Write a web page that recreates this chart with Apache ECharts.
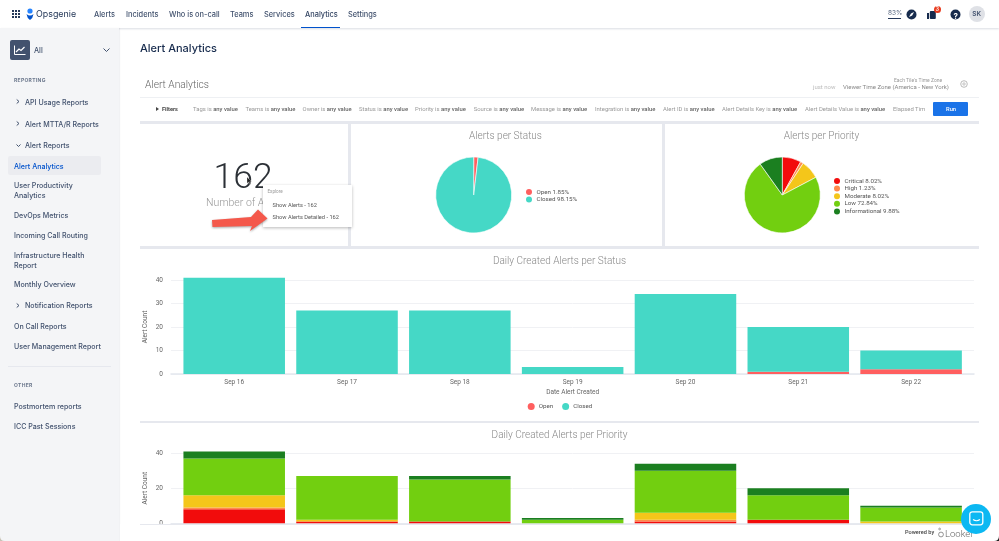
<!DOCTYPE html>
<html><head><meta charset="utf-8">
<script src="https://cdn.jsdelivr.net/npm/echarts@6/dist/echarts.min.js"></script>
<style>
html,body{margin:0;padding:0;background:#fff;width:999px;height:541px;overflow:hidden}
#chart{position:absolute;left:0;top:0;width:999px;height:541px}
#ui{position:absolute;left:0;top:0;width:999px;height:541px;pointer-events:none;font-family:Inter,sans-serif}
#ui>*{position:absolute}
.t{white-space:nowrap;line-height:1;transform:translateY(calc(-50% + .7px))}
.b{position:absolute}
</style></head><body>
<div id="chart"></div>
<div id="ui"></div>
<script>
// ---- data ----
const days = ['Sep 16','Sep 17','Sep 18','Sep 19','Sep 20','Sep 21','Sep 22'];
const openByDay   = [0,0,0,0,0,1,2];
const closedByDay = [41,27,27,3,34,19,8];
const criticalByDay = [8,1,1,0,1,2,0];
const highByDay     = [1,0,0,0,1,0,0];
const moderateByDay = [7,1,0,0,4,0,1];
const lowByDay      = [21,25,24,2,24,14,8];
const infoByDay     = [4,0,2,1,4,4,1];
const statusNames = ['Open','Closed'];
const statusValues = [3,159];
const statusPct = ['1.85%','98.15%'];
const priorityNames = ['Critical','High','Moderate','Low','Informational'];
const priorityValues = [13,2,13,118,16];
const priorityPct = ['8.02%','1.23%','8.02%','72.84%','9.88%'];
const statusTicksMax = 40, priorityTicksMax = 40;

const C = {open:'#FF5F5F',closed:'#45D8C6',Critical:'#F20C0C',High:'#FF8A4C',Moderate:'#F4C61A',Low:'#72CF10',Informational:'#1B7F20'};
const F = 'Roboto';
const pieTitle = {fontFamily:F,fontWeight:300,fontSize:10,color:'#888'};
const barTitle = {fontFamily:F,fontWeight:300,fontSize:10,color:'#888'};
const tickStyle = {fontFamily:F,fontSize:6.5,color:'#666'};
const legendText = {fontFamily:F,fontSize:6.2,color:'#555',padding:[0,0,0,-1.5]};

const chart = echarts.init(document.getElementById('chart'),null,{renderer:'canvas'});

// wide frame grid carries gridlines + y labels; the inner grid carries the bars
function frameAxes(top,bottom,interval,max){
  return {
    grid:[{left:171,right:25,top,bottom},{left:177.8,right:31.5,top,bottom}],
    y:{type:'value',min:0,max,interval,name:'Alert Count',nameLocation:'middle',nameGap:22,nameMoveOverlap:false,
       nameTextStyle:{fontFamily:F,fontSize:6.5,color:'#666'},axisLabel:{...tickStyle,margin:8},
       axisLine:{show:false},axisTick:{show:false},splitLine:{lineStyle:{color:'#F0F1F4',width:1}}},
    yh:{type:'value',min:0,max,interval,show:false,splitLine:{show:false}}
  };
}
const a1 = frameAxes(280,167,10,statusTicksMax);
const a2 = frameAxes(453.3,17.7,20,priorityTicksMax);
const ix = (gridIndex,extra)=>({type:'category',gridIndex,data:days,axisTick:{show:false},axisLine:{lineStyle:{color:'#E4E7EE',width:1.5}},axisLabel:{show:false},...extra});

function bar(name,data,color,xAxisIndex,yAxisIndex,stack){
  return {type:'bar',name,data,xAxisIndex,yAxisIndex,stack,barWidth:'90%',clip:false,silent:true,animation:false,
    itemStyle:{color}};
}

chart.setOption({
  animation:false,
  title:[
    {text:'Alerts per Status',left:505.5,top:131,padding:0,textAlign:'center',textStyle:pieTitle},
    {text:'Alerts per Priority',left:821.5,top:131,padding:0,textAlign:'center',textStyle:pieTitle},
    {text:'Daily Created Alerts per Status',left:559.5,top:256.5,padding:0,textAlign:'center',textStyle:barTitle},
    {text:'Daily Created Alerts per Priority',left:559.5,top:430.5,padding:0,textAlign:'center',textStyle:barTitle}
  ],
  legend:[
    {data:statusNames,orient:'vertical',left:526,top:189,padding:0,icon:'circle',itemWidth:8,itemHeight:6,itemGap:1.6,selectedMode:false,
      formatter:n=>n+' '+statusPct[statusNames.indexOf(n)],textStyle:legendText},
    {data:priorityNames,orient:'vertical',left:834,top:178,padding:0,icon:'circle',itemWidth:8,itemHeight:6,itemGap:1.6,selectedMode:false,
      formatter:n=>n+' '+priorityPct[priorityNames.indexOf(n)],textStyle:legendText},
    {data:statusNames,left:527.7,top:403,padding:0,icon:'circle',itemWidth:8,itemHeight:7,itemGap:9,selectedMode:false,
      textStyle:legendText}
  ],
  grid:[...a1.grid,...a2.grid],
  xAxis:[
    ix(0),
    ix(1,{axisLine:{show:false},axisLabel:{...tickStyle,show:true,margin:5,interval:0},name:'Date Alert Created',nameLocation:'middle',nameGap:15,nameTextStyle:{fontFamily:F,fontSize:6.5,color:'#666'}}),
    ix(2),
    ix(3,{axisLine:{show:false}})
  ],
  yAxis:[
    {...a1.y,gridIndex:0},{...a1.yh,gridIndex:1},
    {...a2.y,gridIndex:2},{...a2.yh,gridIndex:3}
  ],
  series:[
    {type:'pie',name:'status',center:[473.7,195],radius:[0,38],startAngle:90,clockwise:true,silent:true,label:{show:false},labelLine:{show:false},animation:false,
      itemStyle:{borderColor:'#fff',borderWidth:.6},
      data:statusNames.map((name,i)=>({name,value:statusValues[i],itemStyle:{color:[C.open,C.closed][i]}}))},
    {type:'pie',name:'priority',center:[782.3,195],radius:[0,38],startAngle:90,clockwise:true,silent:true,label:{show:false},labelLine:{show:false},animation:false,
      itemStyle:{borderColor:'#fff',borderWidth:.6},
      data:priorityNames.map((name,i)=>({name,value:priorityValues[i],itemStyle:{color:C[name]}}))},
    bar('Open',openByDay,C.open,1,1,'s'),
    bar('Closed',closedByDay,C.closed,1,1,'s'),
    bar('Critical',criticalByDay,C.Critical,3,3,'p'),
    bar('High',highByDay,C.High,3,3,'p'),
    bar('Moderate',moderateByDay,C.Moderate,3,3,'p'),
    bar('Low',lowByDay,C.Low,3,3,'p'),
    bar('Informational',infoByDay,C.Informational,3,3,'p')
  ]
});

// ---- page chrome around the charts ----
const ui = document.getElementById('ui');
function box(x,y,w,h,bg,extra){const d=document.createElement('div');d.className='b';d.style.cssText=`left:${x}px;top:${y}px;width:${w}px;height:${h}px;background:${bg};${extra||''}`;ui.appendChild(d);return d;}
function txt(x,y,s,size,color,extra){const d=document.createElement('div');d.className='t';d.textContent=s;d.style.cssText=`left:${x}px;top:${y}px;font-size:${size}px;color:${color};${extra||''}`;ui.appendChild(d);return d;}
function svg(x,y,w,h,inner,extra){const d=document.createElement('div');d.style.cssText=`left:${x}px;top:${y}px;width:${w}px;height:${h}px;${extra||''}`;d.innerHTML=`<svg xmlns="http://www.w3.org/2000/svg" width="${w}" height="${h}" viewBox="0 0 ${w} ${h}" style="display:block;overflow:visible">${inner}</svg>`;ui.appendChild(d);}

// tile separators
const sep='#E6E8EE';
box(140,121,839,2.5,sep);
box(348,123,2.5,124,sep);
box(662,123,2.5,124,sep);
box(140,246,839,2.5,sep);
box(140,420.5,839,2.5,sep);
box(140,97,839,1,'#EEF0F3');

// header
box(0,0,999,28,'#fff','box-shadow:0 1px 2px rgba(9,30,66,.15)');
let dots='';for(let r=0;r<3;r++)for(let c=0;c<3;c++)dots+=`<rect x="${c*3}" y="${r*3}" width="2" height="2" fill="#253858"/>`;
svg(12,10,8,8,dots);
svg(26,8,8,12,'<circle cx="4" cy="3" r="2.6" fill="#2684FF"/><path d="M0.5 6 Q4 9 7.5 6 Q7 10 4 12 Q1 10 .5 6Z" fill="#0052CC"/>');
txt(36,14,'Opsgenie',8.9,'#253858');
const navItems=[['Alerts',94],['Incidents',126],['Who is on-call',169],['Teams',230],['Services',264],['Analytics',305],['Settings',348]];
navItems.forEach(n=>txt(n[1],14,n[0],7.4,n[0]==='Analytics'?'#344563':'#42526E','font-weight:500'));
box(301,26.5,39,1.7,'#0052CC');
txt(888,13,'83%',6.5,'#5E6C84');
box(888,17.5,13,1.2,'#253858');
svg(906,9,11,11,'<circle cx="5.5" cy="5.5" r="5" fill="#172B4D"/><path d="M3 8 L5 4.6 L8 3 L6.2 6.4Z" fill="#fff"/>');
svg(926,9,11,11,'<rect x="1" y="4" width="2" height="6" fill="#172B4D"/><rect x="3.8" y="2" width="6" height="8" rx="1" fill="#172B4D"/>');
box(933.5,5.5,7,7,'#E8391C','border-radius:50%');
txt(935.5,9,'3',5.5,'#fff','font-weight:600');
svg(950,9,11,11,'<circle cx="5.5" cy="5.5" r="5" fill="#172B4D"/>');
txt(953.6,14.5,'?',8,'#fff','font-weight:700');
box(969,6,16,16,'#DFE1E6','border-radius:50%');
txt(972.3,14,'SK',6.5,'#42526E','font-weight:600');

// sidebar
box(0,28,119,513,'#F4F5F7','box-shadow:1px 0 1px rgba(9,30,66,.06)');
box(10,40,20,20,'#42526E','border-radius:2px');
svg(14,45,12,10,'<path d="M.5 .5V9.5H11.5" fill="none" stroke="#fff" stroke-width="1"/><path d="M2 7 L5 4 L7 5.5 L10.5 2" fill="none" stroke="#fff" stroke-width="1.2"/>');
txt(34,50,'All',7.2,'#42526E','font-weight:500');
svg(103,48,7,5,'<path d="M.5 .5 L3.5 3.5 L6.5 .5" fill="none" stroke="#42526E" stroke-width="1"/>');
const sideHeads=[['REPORTING',80],['OTHER',385.3]];
sideHeads.forEach(h=>txt(14,h[1],h[0],5,'#6B778C','font-weight:700;letter-spacing:.3px'));
box(8,156,93,19,'#EBECF0','border-radius:2px');
const sideItems=[['API Usage Reports',25,101.7],['Alert MTTA/R Reports',25,123.7],['Alert Reports',25,145.3],['User Productivity',14,185],['Analytics',14,195],['DevOps Metrics',14,215],['Incoming Call Routing',14,235],['Infrastructure Health',14,255],['Report',14,265],['Monthly Overview',14,284.3],['Notification Reports',25,305],['On Call Reports',14,326],['User Management Report',14,345.7],['Postmortem reports',14,405.7],['ICC Past Sessions',14,425.7]];
sideItems.forEach(s=>txt(s[1],s[2],s[0],7.1,'#42526E','font-weight:500'));
txt(14,166,'Alert Analytics',7.1,'#0052CC','font-weight:500');
[101.7,123.7,305].forEach(y=>svg(16,y-2.5,4,5,'<path d="M.7 .5 L3 2.5 L.7 4.5" fill="none" stroke="#42526E" stroke-width="1"/>'));
svg(15.5,143.8,5,3,'<path d="M.5 .5 L2.5 2.5 L4.5 .5" fill="none" stroke="#42526E" stroke-width="1"/>');
box(8,365.5,103,1,'#E6E8EE');

// page heading and filter bar
txt(140,48,'Alert Analytics',11,'#172B4D','font-weight:500');
txt(145,84,'Alert Analytics',10.2,'#666','font-family:Roboto;font-weight:300');
svg(156,107,3,4,'<path d="M0 0 L3 2 L0 4Z" fill="#444"/>');
txt(162,109,'Filters',5.6,'#444','font-family:Roboto;font-weight:700');
const filterLabels=[['Tags',193],['Teams',245.5],['Owner',302.6],['Status',359],['Priority',415],['Source',473.7],['Message',531],['Integration',595],['Alert ID',663],['Alert Details Key',722],['Alert Details Value',805]];
filterLabels.forEach(f=>{const d=txt(f[1],109,'',5.9,'#999','font-family:Roboto');d.innerHTML=f[0]+' is <span style="color:#666;font-weight:500">any value</span>';});
txt(893,109,'Elapsed Tim',5.9,'#999','font-family:Roboto');
box(933,102,35,14,'#1A73E8','border-radius:1px');
txt(946,109,'Run',5.8,'#fff','font-family:Roboto;font-weight:500');
txt(813,86,'just now',6,'#bbb','font-family:Roboto');
txt(843,86,'Viewer Time Zone (America - New York)',6,'#888','font-family:Roboto');
txt(894,80,"Each Tile's Time Zone",5,'#999','font-family:Roboto');
svg(960,80,8,8,'<circle cx="4" cy="4" r="3.3" fill="none" stroke="#aaa" stroke-width=".8"/><circle cx="4" cy="4" r="1.2" fill="none" stroke="#aaa" stroke-width=".7"/>');

// single value tile + drill menu
txt(213.5,175.5,'162',35.5,'#2B3036','font-family:Roboto;font-weight:300');
txt(206,203,'Number of Alerts',10.5,'#999','font-family:Roboto;font-weight:300');
box(263,185,89,42,'#fff','box-shadow:0 1px 3px rgba(0,0,0,.28)');
txt(267.5,192,'Explore',4.6,'#999','font-family:Roboto');
txt(272.5,204.5,'Show Alerts - 162',5.7,'#555','font-family:Roboto');
txt(272.5,216.5,'Show Alerts Detailed - 162',5.7,'#555','font-family:Roboto');
svg(210,205,60,30,'<path d="M2 15 L41 12 L48 4.5 L57.5 13.5 L40 26 L42 21 L2.5 22 Z" fill="#F4584B" style="filter:drop-shadow(0 1px 1px rgba(0,0,0,.35))"/>');
svg(247,177,5,8,'<path d="M0 0 L0 6.5 L1.6 5 L2.8 7.5 L3.8 7 L2.7 4.6 L4.6 4.6Z" fill="#222" stroke="#fff" stroke-width=".3"/>');

// bottom strip clipping the last tile
box(119.5,524.3,880,17,'#fff');
box(140,523.7,839,1.6,'#E6E8EE');
txt(905,532,'Powered by',5.6,'#444','font-family:Roboto;font-weight:500');
svg(938,527,6,11,'<circle cx="3" cy="7.5" r="2.4" fill="none" stroke="#666" stroke-width=".7"/><circle cx="1.6" cy="2" r=".9" fill="none" stroke="#666" stroke-width=".6"/>');
txt(945,533,'Looker',9.5,'#666','font-family:Roboto;font-weight:300');
box(961,504,30,30,'#0CB8F2','border-radius:50%');
svg(968.5,511,15,16,'<rect x=".8" y=".8" width="13" height="13" rx="2.5" fill="#0CB8F2" stroke="#fff" stroke-width="1.3"/><path d="M4 8.5 Q7.5 11 11 8.5" fill="none" stroke="#fff" stroke-width="1.1"/>');
// rounded screenshot corners
svg(0,536,5,5,'<path d="M0 0 Q0 5 5 5 L0 5Z" fill="#C8C2B6"/>');
svg(994,536,5,5,'<path d="M5 0 Q5 5 0 5 L5 5Z" fill="#222"/>');
</script>
</body></html>
